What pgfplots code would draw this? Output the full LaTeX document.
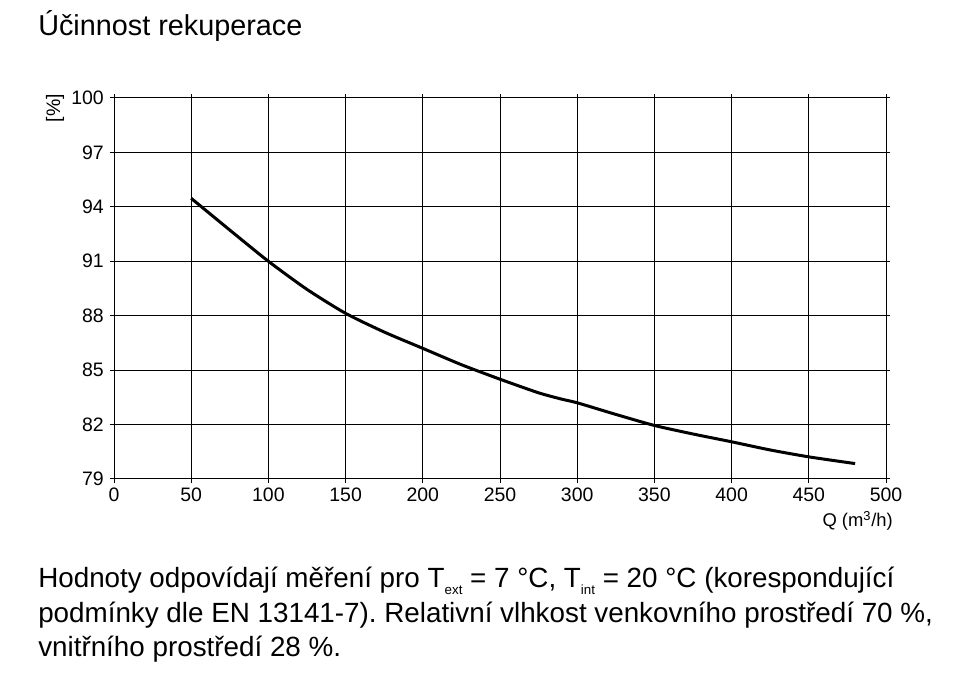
\documentclass[border=0pt]{standalone}
\usepackage{fontspec}
\setmainfont{Liberation Sans}
\usepackage{pgfplots}
\pgfplotsset{compat=1.18}
\frenchspacing
\newcommand{\sub}[1]{\raisebox{-5pt}{\fontsize{10}{10}\selectfont #1}}

\begin{document}
\begin{tikzpicture}
% page frame: 957x681 px at 0.75pt per px
\path[use as bounding box] (0,0) rectangle (717.75pt,510.75pt);

\node[anchor=base west, inner sep=0pt, font=\fontsize{21.6}{26}\selectfont]
  at (28.5pt,483.75pt) {Účinnost rekuperace};

\begin{axis}[
    at={(85.5pt,151.5pt)}, anchor=south west,
    scale only axis,
    width=579pt, height=285.75pt,
    xmin=0, xmax=500, ymin=79, ymax=100,
    xtick={0,50,...,500},
    ytick={79,82,85,88,91,94,97,100},
    grid=major,
    grid style={black, line width=0.75pt},
    axis line style={black, line width=0.75pt},
    tick style={black, line width=0.75pt},
    tick align=outside,
    major tick length=3pt,
    /pgf/number format/assume math mode=true,
    /pgf/number format/1000 sep={},
    ticklabel style={font=\fontsize{14.6}{17}\selectfont, inner sep=0pt},
    xticklabel style={anchor=north, yshift=-3.75pt},
    yticklabel style={anchor=east, xshift=-4.5pt},
    clip=false,
]
\addplot[black, line width=2.25pt, smooth, tension=0.4] coordinates {
    (50,94.47) (75,92.72) (100,91.0) (125,89.45) (150,88.13) (175,87.1)
    (200,86.2) (225,85.3) (250,84.5) (275,83.75) (290,83.4) (300,83.2)
    (325,82.56) (350,81.95) (375,81.48) (400,81.05) (425,80.6)
    (450,80.22) (480,79.85)
};
\end{axis}

\node[rotate=90, inner sep=0pt, font=\fontsize{14.6}{17}\selectfont]
  at (41.25pt,429.75pt) {[\%]};
\node[anchor=base east, inner sep=0pt, font=\fontsize{13.8}{16}\selectfont]
  at (669.75pt,115.5pt) {Q (m\textsuperscript{3}/h)};

\begin{scope}[every node/.style={anchor=base west, inner sep=0pt,
    font=\fontsize{20.85}{26}\selectfont}]
\node at (28.5pt,69.75pt) {Hodnoty odpovídají měření pro T\sub{ext} = 7 °C, T\sub{int} = 20 °C (korespondující};
\node at (28.5pt,43.7pt) {podmínky dle EN 13141-7). Relativní vlhkost venkovního prostředí 70 \%,};
\node at (28.5pt,18pt) {vnitřního prostředí 28 \%.};
\end{scope}
\end{tikzpicture}
\end{document}
